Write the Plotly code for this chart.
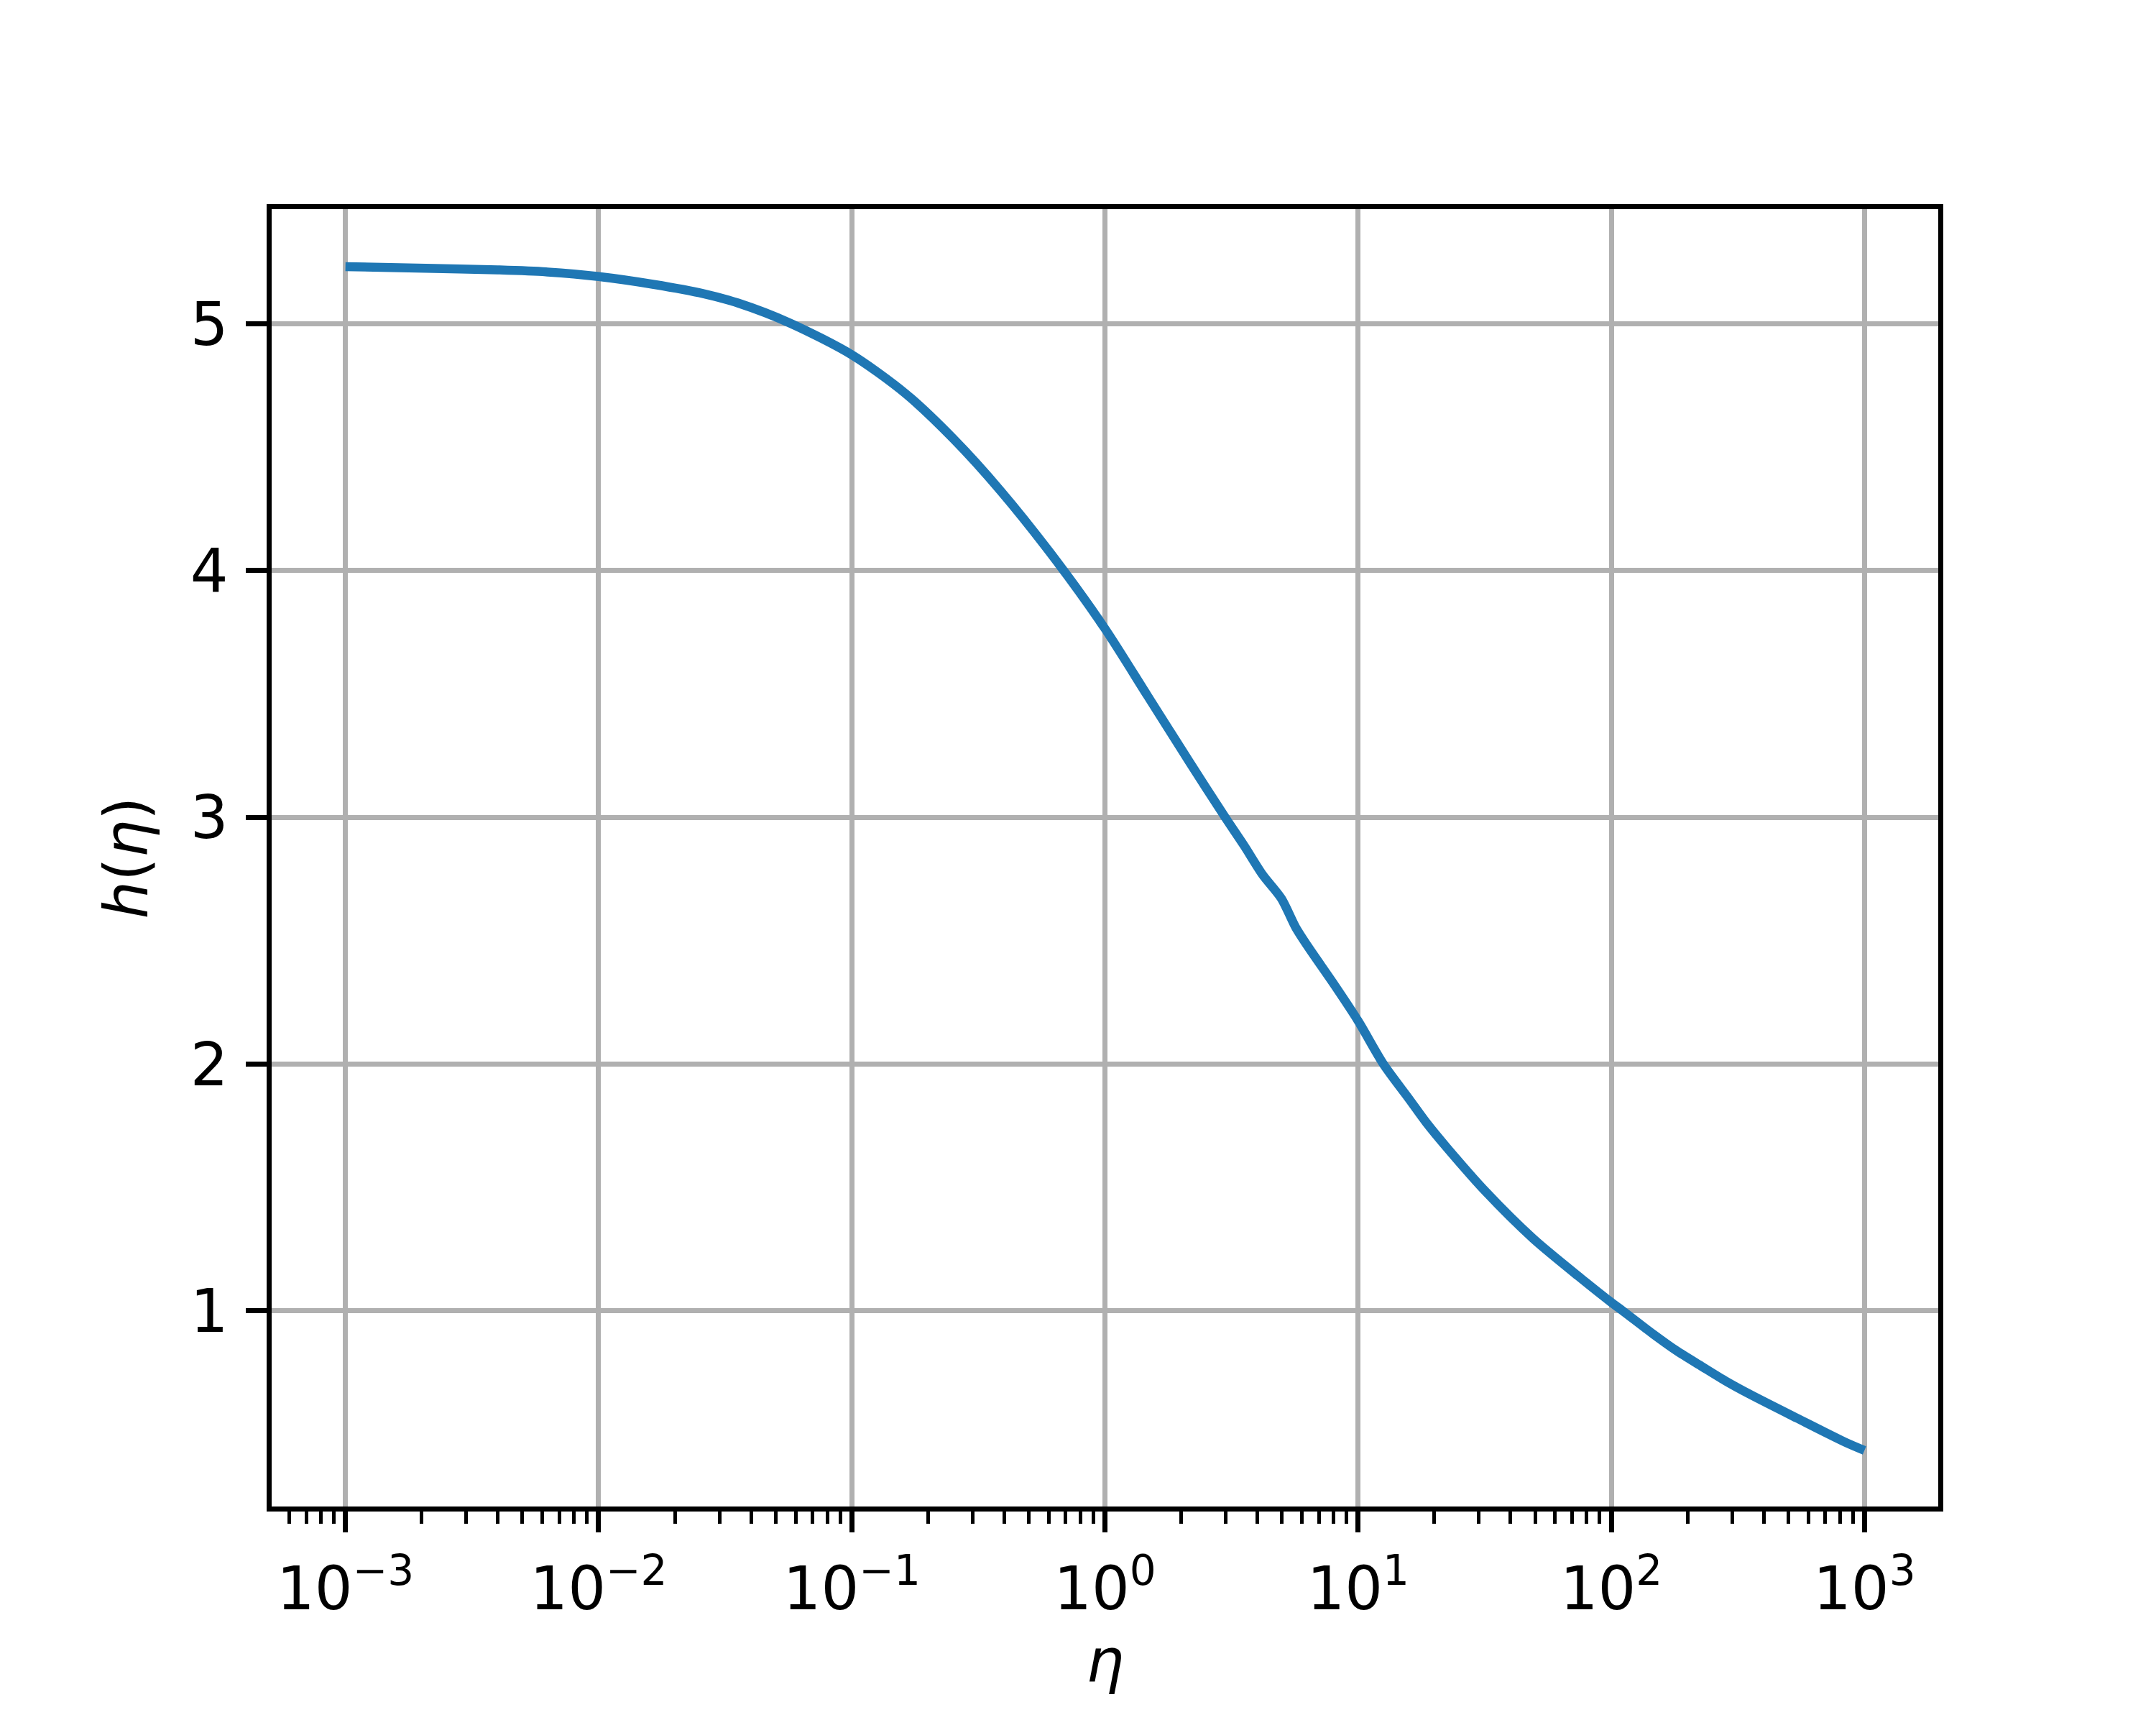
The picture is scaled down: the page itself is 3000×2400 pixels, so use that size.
import plotly.graph_objects as go

# Data
eta = [1e-3, 2.080e-3, 4.000e-3, 6.194e-3, 1e-2, 1.652e-2, 2.612e-2, 3.548e-2,
       5.715e-2, 0.1, 0.1629, 0.2523, 0.3882, 0.6427, 1.0, 1.479, 2.168, 2.985,
       3.548, 4.198, 4.977, 5.675, 6.339, 8.072, 10.0, 12.59, 15.81, 18.62,
       22.39, 31.84, 49.09, 76.03, 100.0, 110.9, 146.2, 181.1, 226.5, 281.2,
       349.1, 540.8, 837.5, 1000.0]
h = [5.232, 5.226, 5.219, 5.211, 5.192, 5.160, 5.122, 5.085,
     5.003, 4.875, 4.718, 4.534, 4.322, 4.040, 3.765, 3.490, 3.221, 3.000,
     2.885, 2.767, 2.671, 2.553, 2.476, 2.320, 2.175, 2.000, 1.862, 1.762,
     1.662, 1.484, 1.293, 1.131, 1.034, 1.000, 0.906, 0.838, 0.776, 0.717,
     0.664, 0.565, 0.468, 0.434]

x_tickvals = [1e-3, 1e-2, 1e-1, 1e0, 1e1, 1e2, 1e3]
x_ticktext = ["10<sup>\u22123</sup>", "10<sup>\u22122</sup>", "10<sup>\u22121</sup>",
              "10<sup>0</sup>", "10<sup>1</sup>", "10<sup>2</sup>", "10<sup>3</sup>"]
y_tickvals = [1, 2, 3, 4, 5]
y_ticktext = ["1", "2", "3", "4", "5"]

FONT = "DejaVu Sans"
GRID = "#b0b0b0"
FS = 83

fig = go.Figure()
fig.add_trace(go.Scatter(x=eta, y=h, mode="lines",
                         line=dict(color="#1f77b4", width=12.5,
                                   shape="spline", smoothing=0.8),
                         showlegend=False))

fig.update_layout(
    width=3000, height=2400,
    margin=dict(l=370, r=311, t=283, b=312, autoexpand=False),
    paper_bgcolor="white", plot_bgcolor="white",
    font=dict(family=FONT, size=FS, color="black"),
)

fig.update_xaxes(
    type="log", range=[-3.2915, 3.2915],
    tickvals=x_tickvals, ticktext=x_ticktext,
    ticks="outside", ticklen=29, tickwidth=6.7, tickcolor="black",
    ticklabelstandoff=8,
    showline=True, linecolor="black", linewidth=6.7, mirror=True,
    showgrid=True, gridcolor=GRID, gridwidth=6.7,
    zeroline=False,
    tickfont=dict(family=FONT, size=FS, color="black"),
    minor=dict(ticks="outside", ticklen=17, tickwidth=5, tickcolor="black",
               dtick="D1", showgrid=False),
    title=dict(text="<i>\u03b7</i>", font=dict(family=FONT, size=FS, color="black"),
               standoff=26),
)

fig.update_yaxes(
    range=[0.2067, 5.4653],
    tickvals=y_tickvals, ticktext=y_ticktext,
    ticks="outside", ticklen=29, tickwidth=6.7, tickcolor="black",
    ticklabelstandoff=8,
    showline=True, linecolor="black", linewidth=6.7, mirror=True,
    showgrid=True, gridcolor=GRID, gridwidth=6.7,
    zeroline=False,
    tickfont=dict(family=FONT, size=FS, color="black"),
    title=dict(text="<i>h</i>(<i>\u03b7</i>)", font=dict(family=FONT, size=FS, color="black"),
               standoff=34),
)

fig.write_html("out.html")
